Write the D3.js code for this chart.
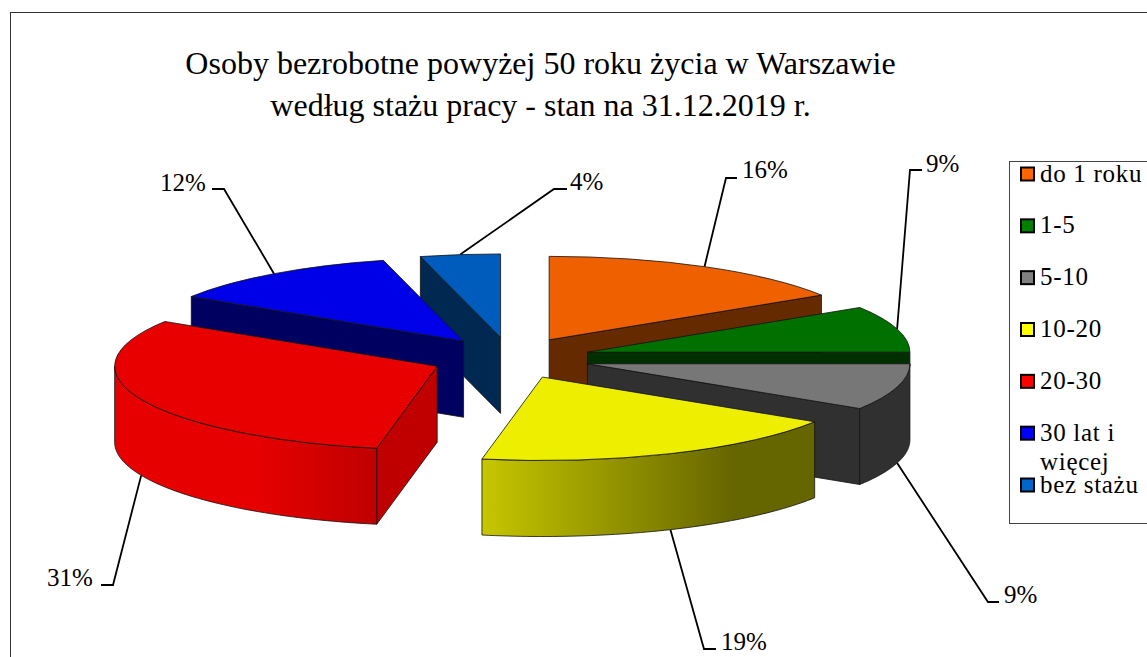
<!DOCTYPE html>
<html><head><meta charset="utf-8">
<script src="https://cdnjs.cloudflare.com/ajax/libs/d3/7.8.5/d3.min.js"></script>
<style>html,body{margin:0;padding:0;background:#fff;overflow:hidden}svg{display:block}text{font-family:"Liberation Serif",serif;fill:#000}</style>
</head><body><svg id="c" width="1147" height="657"></svg>
<script>
const categories=["do 1 roku","1-5","5-10","10-20","20-30","30 lat i więcej","bez stażu"];
const values=[16,9,9,19,31,12,4];
const labels=["16%","9%","9%","19%","31%","12%","4%"];
const topColors=["#ee6000","#007000","#777777","#eeee00","#e80000","#0000e8","#005cbc"];
const sideColors=["#662a00","#003000","#303030","#666600","#c00000","#000060","#002850"];
const legendColors=["#ff6600","#008000","#808080","#ffff00","#ff0000","#0000ff","#0066cc"];
const titleLines=["Osoby bezrobotne powyżej 50 roku życia w Warszawie","według stażu pracy - stan na 31.12.2019 r."];
// label layout: elbow position and text anchor for each slice
const elbowX=[726,910,988,704,113,224,554];
const elbowY=[178,170,602,649,585,189,189];
const tailX=[737,922,999,716,101,212,567];
const textX=[742,926,1004,721,47,160,570];
const textY=[178,172,603,650,586,191,190];

const W=1147,H=657,rx=322.5,ry=83.5,depth=76,explode=80,cx=510.6,cy=358,ratio=ry/rx;
const svg=d3.select("#c");
const defs=svg.append("defs");
const addGrad=(id,x1,x2,stops)=>{const g=defs.append("linearGradient").attr("id",id).attr("gradientUnits","userSpaceOnUse").attr("x1",x1).attr("x2",x2).attr("y1",0).attr("y2",0);
 stops.forEach(s=>g.append("stop").attr("offset",s[0]).attr("stop-color",s[1]));};
addGrad("gy",482,815,[[0,"#c6c600"],[.75,"#666600"],[1,"#666600"]]);
addGrad("gr",113,376,[[0,"#e60000"],[.55,"#e60000"],[1,"#c00000"]]);

svg.append("rect").attr("x",10.5).attr("y",12.5).attr("width",W+20).attr("height",H+20).attr("fill","#fff").attr("stroke","#333").attr("stroke-width",1);

const title=svg.append("g");
titleLines.forEach((t,i)=>title.append("text").attr("x",540.5).attr("y",[74,116][i]).attr("text-anchor","middle").attr("font-size",32).text(t));

const pie=d3.pie().sort(null).value(d=>d).startAngle(0).endAngle(2*Math.PI);
const arcs=pie(values).map((a,i)=>{const m=(a.startAngle+a.endAngle)/2;
 return {...a,i,mid:m,ax:cx+explode*Math.sin(m),ay:cy-explode*Math.cos(m)*ratio};});
const px=(a,t)=>a.ax+rx*Math.sin(t), py=(a,t)=>a.ay-ry*Math.cos(t);
const arcGen=d3.arc().innerRadius(0).outerRadius(rx);
const line=d3.line();
const edge="#111";

function wall(a,t0,t1){const n=60,top=d3.range(n+1).map(k=>{const t=t0+(t1-t0)*k/n;return [px(a,t),py(a,t)];});
 return line(top.concat(top.slice().reverse().map(p=>[p[0],p[1]+depth])))+"Z";}
// the 1-5 slice's face is almost wholly behind the next slice, so only its visible strip is drawn
function flat(a,t){const d=a.i===1?14:depth;return line([[a.ax,a.ay],[px(a,t),py(a,t)],[px(a,t),py(a,t)+d],[a.ax,a.ay+d]])+"Z";}

// leader lines sit behind the pie
arcs.forEach(a=>{const lower=Math.cos(a.mid)<0,sx=px(a,a.mid),sy=py(a,a.mid)+(lower?depth:0);
 svg.append("path").attr("d",line([[sx,sy],[elbowX[a.i],elbowY[a.i]],[tailX[a.i],elbowY[a.i]]])).attr("fill","none").attr("stroke","#000").attr("stroke-width",1.8);
 svg.append("text").attr("x",textX[a.i]).attr("y",textY[a.i]).attr("font-size",25).text(labels[a.i]);
});

// painter's order, back to front; a radial face shows when it looks toward the viewer
const order=[6,5,0,1,2,4,3];
order.forEach(i=>{const a=arcs[i],g=svg.append("g");
 const side=sideColors[i];
 const s=(sel,f)=>sel.attr("fill",f).attr("stroke",edge).attr("stroke-width",.8).attr("stroke-linejoin","round");
 if(Math.sin(a.startAngle)<-1e-6) s(g.append("path").attr("d",flat(a,a.startAngle)),side);
 if(Math.sin(a.endAngle)>1e-6) s(g.append("path").attr("d",flat(a,a.endAngle)),side);
 // visible outer wall: angles between 90° and 270°
 const w0=Math.max(a.startAngle,Math.PI/2),w1=Math.min(a.endAngle,3*Math.PI/2);
 if(w1>w0){const f=i===3?"url(#gy)":i===4?"url(#gr)":side; s(g.append("path").attr("d",wall(a,w0,w1)),f);}
 g.append("path").attr("d",arcGen({startAngle:a.startAngle,endAngle:a.endAngle}))
  .attr("transform",`translate(${a.ax},${a.ay}) scale(1,${ratio})`)
  .attr("fill",topColors[i]).attr("stroke",edge).attr("stroke-width",.8).attr("vector-effect","non-scaling-stroke").attr("stroke-linejoin","round");
});

// legend
svg.append("rect").attr("x",1009.5).attr("y",161.5).attr("width",160).attr("height",362).attr("fill","#fff").attr("stroke","#444");
const legendY=d3.scalePoint().domain(categories).range([174,485]);
categories.forEach((c,i)=>{const y=legendY(c);
 svg.append("rect").attr("x",1021).attr("y",y-6.5).attr("width",13).attr("height",13).attr("fill",legendColors[i]).attr("stroke","#000").attr("stroke-width",2);
 const parts=c==="30 lat i więcej"?["30 lat i","więcej"]:[c];
 parts.forEach((p,k)=>svg.append("text").attr("x",1040).attr("y",y+7.5+k*29).attr("font-size",25).attr("letter-spacing",.7).text(p));
});
</script></body></html>
